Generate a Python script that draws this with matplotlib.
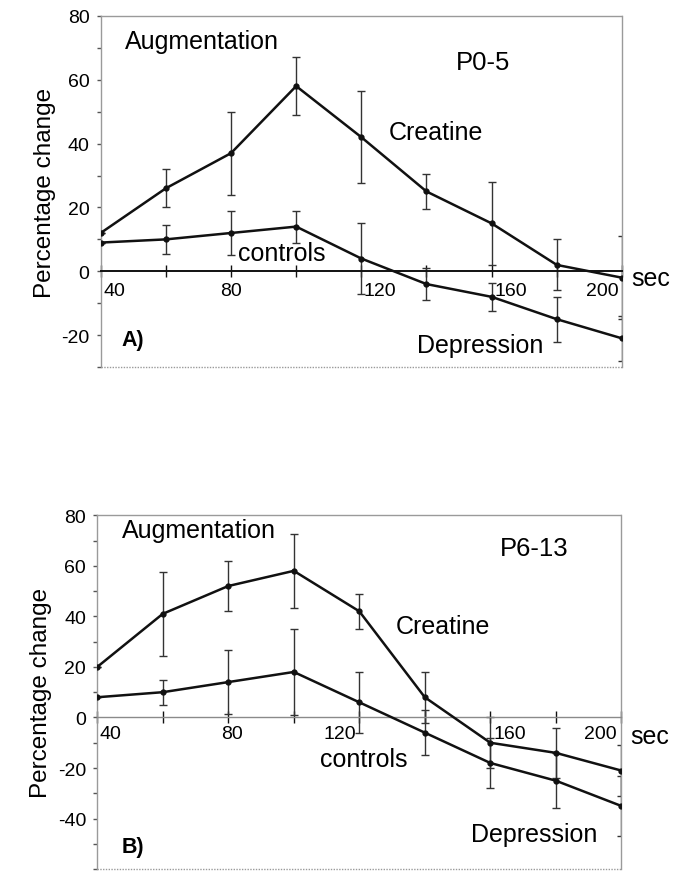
import numpy as np
import matplotlib
matplotlib.use("Agg")
import matplotlib.pyplot as plt
from matplotlib.ticker import MultipleLocator

plt.rcParams["font.family"] = ["Liberation Sans", "DejaVu Sans"]
plt.rcParams["axes.unicode_minus"] = False

# time points (sec)
times = [40, 60, 80, 100, 120, 140, 160, 180, 200]

# panel A: P0-5
creatine_a = [12, 26, 37, 58, 42, 25, 15, 2, -2]
creatine_a_err = [0, 6, 13, 9, 14.5, 5.5, 13, 8, 13]
controls_a = [9, 10, 12, 14, 4, -4, -8, -15, -21]
controls_a_err = [0, 4.5, 7, 5, 11, 5, 4.3, 7, 7]

# panel B: P6-13
creatine_b = [20, 41, 52, 58, 42, 8, -10, -14, -21]
creatine_b_err = [0, 16.5, 10, 14.5, 7, 10, 10, 10, 10]
controls_b = [8, 10, 14, 18, 6, -6, -18, -25, -35]
controls_b_err = [0, 5, 12.5, 17, 12, 9, 10, 11, 12]

xtick_labels = ["40", "80", "120", "160", "200"]

INK = "#111111"
FRAME = "#9a9a9a"
LABEL_FS = 18


def style_axes(ax, ylim, yticks, zero_color, zero_lw):
    ax.set_xlim(40, 200)
    ax.set_ylim(*ylim)
    for side in ["top", "right", "left"]:
        ax.spines[side].set_linestyle((0, (1, 1)))
        ax.spines[side].set_color(FRAME)
        ax.spines[side].set_linewidth(1.0)
    # zero line acts as x-axis
    ax.spines["bottom"].set_position(("data", 0))
    ax.spines["bottom"].set_color(zero_color)
    ax.spines["bottom"].set_linewidth(zero_lw)
    ax.axhline(ylim[0], color=FRAME, lw=1.0, ls=(0, (1, 1)), clip_on=False)
    ax.set_xticks(times)
    ax.tick_params(axis="x", direction="inout", length=8, width=1, color=INK,
                   labelbottom=False)
    ax.set_yticks(yticks)
    ax.yaxis.set_minor_locator(MultipleLocator(10))
    ax.tick_params(axis="y", which="both", direction="out", length=3, width=1,
                   color="#555555", labelsize=14, pad=5)
    ax.set_ylabel("Percentage change", fontsize=17.5, labelpad=4)


def draw_series(ax, y, err):
    ax.errorbar(times, y, yerr=err, fmt="none", ecolor="#333333",
                elinewidth=1.0, capsize=3, capthick=1.0, zorder=2)
    ax.plot(times, y, color=INK, lw=1.8, marker="o", ms=3.5, zorder=3)


fig = plt.figure(figsize=(6.85, 8.87), dpi=100)
ax_a = fig.add_axes([0.147, 0.585, 0.761, 0.396])
ax_b = fig.add_axes([0.142, 0.019, 0.765, 0.399])

# ---- panel A
style_axes(ax_a, (-30, 80), [-20, 0, 20, 40, 60, 80], INK, 1.4)
draw_series(ax_a, creatine_a, creatine_a_err)
draw_series(ax_a, controls_a, controls_a_err)
for lab, x, ha in zip(xtick_labels, [40.8, 80, 125.7, 166, 194], ["left", "center", "center", "center", "center"]):
    ax_a.text(x, -3.4, lab, ha=ha, va="top", fontsize=14)
ax_a.text(47.4, 72, "Augmentation", fontsize=LABEL_FS, va="center")
ax_a.text(149, 65.6, "P0-5", fontsize=18.5, va="center")
ax_a.text(128.5, 43.7, "Creatine", fontsize=LABEL_FS, va="center")
ax_a.text(82, 5.6, "controls", fontsize=LABEL_FS, va="center")
ax_a.text(137, -23, "Depression", fontsize=LABEL_FS, va="center")
ax_a.text(46.5, -21.5, "A)", fontsize=15.5, fontweight="bold", va="center")
ax_a.text(203, -2.2, "sec", fontsize=LABEL_FS, va="center", clip_on=False)

# ---- panel B
style_axes(ax_b, (-60, 80), [-40, -20, 0, 20, 40, 60, 80], "#8a8a8a", 1.0)
draw_series(ax_b, creatine_b, creatine_b_err)
draw_series(ax_b, controls_b, controls_b_err)
for lab, x, ha in zip(xtick_labels, [40.8, 81, 114, 166, 193.5], ["left", "center", "center", "center", "center"]):
    ax_b.text(x, -2.8, lab, ha=ha, va="top", fontsize=14)
ax_b.text(47.4, 74.3, "Augmentation", fontsize=LABEL_FS, va="center")
ax_b.text(163, 67, "P6-13", fontsize=18.5, va="center")
ax_b.text(131, 36, "Creatine", fontsize=LABEL_FS, va="center")
ax_b.text(108, -16.6, "controls", fontsize=LABEL_FS, va="center")
ax_b.text(154, -46, "Depression", fontsize=LABEL_FS, va="center")
ax_b.text(47.5, -51, "B)", fontsize=15.5, fontweight="bold", va="center")
ax_b.text(202.8, -7.5, "sec", fontsize=LABEL_FS, va="center", clip_on=False)

fig.savefig("out.png", dpi=100, facecolor="white")
